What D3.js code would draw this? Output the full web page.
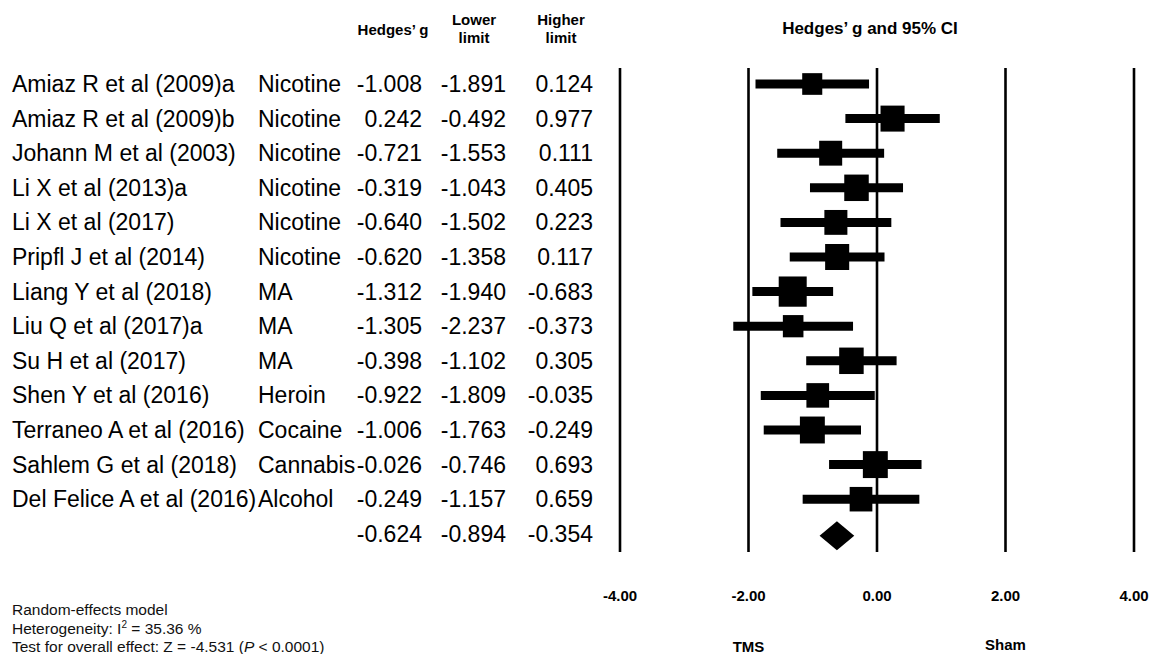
<!DOCTYPE html>
<html>
<head>
<meta charset="utf-8">
<script src="https://cdn.jsdelivr.net/npm/d3@7"></script>
<style>
  body { margin: 0; background: #fff; }
  svg { display: block; font-family: "Liberation Sans", Arial, sans-serif; }
</style>
</head>
<body>
<svg id="svg" width="1154" height="654"></svg>
<script>
const studies = ['Amiaz R et al (2009)a', 'Amiaz R et al (2009)b', 'Johann M et al (2003)', 'Li X et al (2013)a',
  'Li X et al (2017)', 'Pripfl J et al (2014)', 'Liang Y et al (2018)', 'Liu Q et al (2017)a', 'Su H et al (2017)',
  'Shen Y et al (2016)', 'Terraneo A et al (2016)', 'Sahlem G et al (2018)', 'Del Felice A et al (2016)'];
const groups = ['Nicotine', 'Nicotine', 'Nicotine', 'Nicotine', 'Nicotine', 'Nicotine', 'MA', 'MA', 'MA',
  'Heroin', 'Cocaine', 'Cannabis', 'Alcohol'];
const hedges = [-1.008, 0.242, -0.721, -0.319, -0.640, -0.620, -1.312, -1.305, -0.398, -0.922, -1.006, -0.026, -0.249];
const lower  = [-1.891, -0.492, -1.553, -1.043, -1.502, -1.358, -1.940, -2.237, -1.102, -1.809, -1.763, -0.746, -1.157];
const higher = [0.124, 0.977, 0.111, 0.405, 0.223, 0.117, -0.683, -0.373, 0.305, -0.035, -0.249, 0.693, 0.659];
// whisker ends as drawn in the figure (first row is drawn short of zero)
const higherDrawn = [-0.124, 0.977, 0.111, 0.405, 0.223, 0.117, -0.683, -0.373, 0.305, -0.035, -0.249, 0.693, 0.659];
// relative weights
const weights = [5.7, 8.2, 7.5, 8.5, 7.5, 8.2, 11.1, 6.0, 8.5, 7.3, 8.8, 8.8, 7.3];
const pooled = [-0.624, -0.894, -0.354];
const ticks = [-4, -2, 0, 2, 4];
const sideLabels = [['TMS', -2], ['Sham', 2]];

const svg = d3.select('#svg');
const n = studies.length;
const x = d3.scaleLinear().domain([-4, 4]).range([620, 1134]);
const y = d3.scalePoint().domain(d3.range(n + 1)).range([84, 84 + n * 34.6]);
const box = d3.scaleSqrt().domain([0, 11.1]).range([0, 28]);
const fmt = v => v.toFixed(3);

// header
const hdr = svg.append('g').attr('font-weight', 'bold').attr('font-size', 15).attr('text-anchor', 'middle');
hdr.append('text').attr('x', 393).attr('y', 35).text('Hedges’ g');
[['Lower', 474], ['Higher', 561]].forEach(([t, cx]) => {
  hdr.append('text').attr('x', cx).attr('y', 25).text(t);
  hdr.append('text').attr('x', cx).attr('y', 43).text('limit');
});
hdr.append('text').attr('x', 870).attr('y', 34).attr('font-size', 17).text('Hedges’ g and 95% CI');

// table
const rows = svg.append('g').attr('font-size', 23).attr('fill', '#000');
d3.range(n).forEach(i => {
  const by = y(i) + 8;
  rows.append('text').attr('x', 12).attr('y', by).text(studies[i]);
  rows.append('text').attr('x', 258).attr('y', by).text(groups[i]);
  rows.append('text').attr('x', 422).attr('y', by).attr('text-anchor', 'end').text(fmt(hedges[i]));
  rows.append('text').attr('x', 506).attr('y', by).attr('text-anchor', 'end').text(fmt(lower[i]));
  rows.append('text').attr('x', 593).attr('y', by).attr('text-anchor', 'end').text(fmt(higher[i]));
});
const py = y(n) + 8;
rows.append('text').attr('x', 422).attr('y', py).attr('text-anchor', 'end').text(fmt(pooled[0]));
rows.append('text').attr('x', 506).attr('y', py).attr('text-anchor', 'end').text(fmt(pooled[1]));
rows.append('text').attr('x', 593).attr('y', py).attr('text-anchor', 'end').text(fmt(pooled[2]));

// reference lines
svg.append('g').selectAll('line').data(ticks).join('line')
  .attr('x1', d => x(d)).attr('x2', d => x(d))
  .attr('y1', 68).attr('y2', 552)
  .attr('stroke', '#000').attr('stroke-width', 2.6);

// whiskers and boxes
const plot = svg.append('g');
plot.selectAll('line').data(d3.range(n)).join('line')
  .attr('x1', i => x(lower[i])).attr('x2', i => x(higherDrawn[i]))
  .attr('y1', i => y(i)).attr('y2', i => y(i))
  .attr('stroke', '#000').attr('stroke-width', 9);
plot.selectAll('rect').data(d3.range(n)).join('rect')
  .attr('x', i => x(hedges[i]) - box(weights[i]) / 2)
  .attr('y', i => y(i) - box(weights[i]) * 0.54)
  .attr('width', i => box(weights[i]))
  .attr('height', i => box(weights[i]) * 1.08)
  .attr('fill', '#000');

// pooled diamond
const dy = y(n) + 2, hh = 14.5;
svg.append('path')
  .attr('d', `M${x(pooled[1])},${dy} L${x(pooled[0])},${dy - hh} L${x(pooled[2])},${dy} L${x(pooled[0])},${dy + hh} Z`)
  .attr('fill', '#000');

// axis labels
const ax = svg.append('g').attr('font-weight', 'bold').attr('font-size', 15).attr('text-anchor', 'middle');
ax.selectAll('text.tick').data(ticks).join('text').attr('class', 'tick')
  .attr('x', d => x(d)).attr('y', 601).text(d => d.toFixed(2));
ax.selectAll('text.side').data(sideLabels).join('text').attr('class', 'side')
  .attr('x', d => x(d[1])).attr('y', (d, i) => i ? 650 : 652).text(d => d[0]);

// model notes
const notes = svg.append('g').attr('font-size', 15.5).attr('fill', '#111');
notes.append('text').attr('x', 12).attr('y', 615).text('Random-effects model');
const het = notes.append('text').attr('x', 12).attr('y', 634);
het.append('tspan').text('Heterogeneity: I');
het.append('tspan').attr('font-size', 10).attr('dy', -6).text('2');
het.append('tspan').attr('dy', 6).text(' = 35.36 %');
const test = notes.append('text').attr('x', 12).attr('y', 652);
test.append('tspan').text('Test for overall effect: Z = -4.531 (');
test.append('tspan').attr('font-style', 'italic').text('P');
test.append('tspan').text(' < 0.0001)');
</script>
</body>
</html>
